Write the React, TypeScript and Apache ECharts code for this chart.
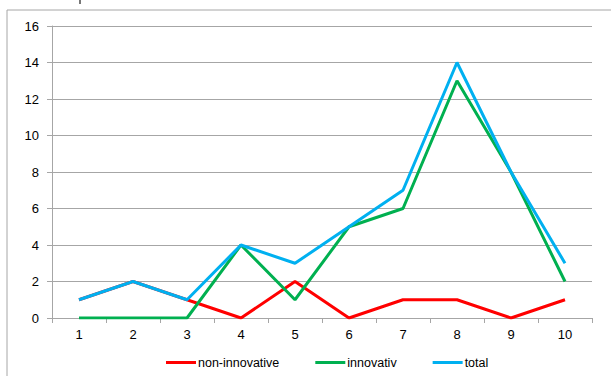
import React, { useEffect, useRef } from "react";
import * as echarts from "echarts";

const categories = ["1", "2", "3", "4", "5", "6", "7", "8", "9", "10"];
const nonInnovative = [1, 2, 1, 0, 2, 0, 1, 1, 0, 1];
const innovativ = [0, 0, 0, 4, 1, 5, 6, 13, 8, 2];
const total = [1, 2, 1, 4, 3, 5, 7, 14, 8, 3];

export default function App() {
  const ref = useRef<HTMLDivElement>(null);
  useEffect(() => {
    if (!ref.current) return;
    const chart = echarts.init(ref.current, undefined, { renderer: "svg" });
    const font = "'Liberation Sans', Arial, sans-serif";
    const gray = "#a6a6a6";
    chart.setOption({
      animation: false,
      textStyle: { fontFamily: font },
      graphic: [
        {
          type: "rect",
          shape: { x: 7, y: 10, width: 800, height: 600 },
          style: { fill: "none", stroke: gray, lineWidth: 1 },
          silent: true,
        },
        {
          type: "rect",
          shape: { x: 79, y: 0, width: 2, height: 4 },
          style: { fill: "#777" },
          silent: true,
        },
      ],
      grid: { left: 52, right: 19, top: 26, bottom: 58 },
      legend: {
        left: 161,
        top: 351,
        itemWidth: 30,
        itemHeight: 3,
        itemGap: 36,
        icon: "rect",
        textStyle: { fontSize: 12.5, color: "#000", fontFamily: font, padding: [0, 0, 0, -3] },
        data: ["non-innovative", "innovativ", "total"],
      },
      xAxis: {
        type: "category",
        data: categories,
        boundaryGap: true,
        axisLine: { lineStyle: { color: gray, width: 1 } },
        axisTick: { show: true, length: 5, lineStyle: { color: gray }, inside: false },
        axisLabel: { color: "#000", fontSize: 13, margin: 10, fontFamily: font },
        splitLine: { show: false },
      },
      yAxis: {
        type: "value",
        min: 0,
        max: 16,
        interval: 2,
        axisLine: { show: true, lineStyle: { color: gray, width: 1 } },
        axisTick: { show: true, length: 5, lineStyle: { color: gray } },
        axisLabel: { color: "#000", fontSize: 13, margin: 13, fontFamily: font },
        splitLine: { show: true, lineStyle: { color: gray, width: 1 } },
      },
      series: [
        {
          name: "non-innovative",
          type: "line",
          data: nonInnovative,
          symbol: "none",
          lineStyle: { color: "#ff0000", width: 3 },
          itemStyle: { color: "#ff0000" },
        },
        {
          name: "innovativ",
          type: "line",
          data: innovativ,
          symbol: "none",
          lineStyle: { color: "#00b050", width: 3 },
          itemStyle: { color: "#00b050" },
        },
        {
          name: "total",
          type: "line",
          data: total,
          symbol: "none",
          lineStyle: { color: "#00b0f0", width: 3 },
          itemStyle: { color: "#00b0f0" },
        },
      ],
    });
    return () => chart.dispose();
  }, []);
  return (
    <div
      ref={ref}
      style={{ position: "absolute", left: 0, top: 0, width: 611, height: 376, background: "#fff" }}
    />
  );
}
